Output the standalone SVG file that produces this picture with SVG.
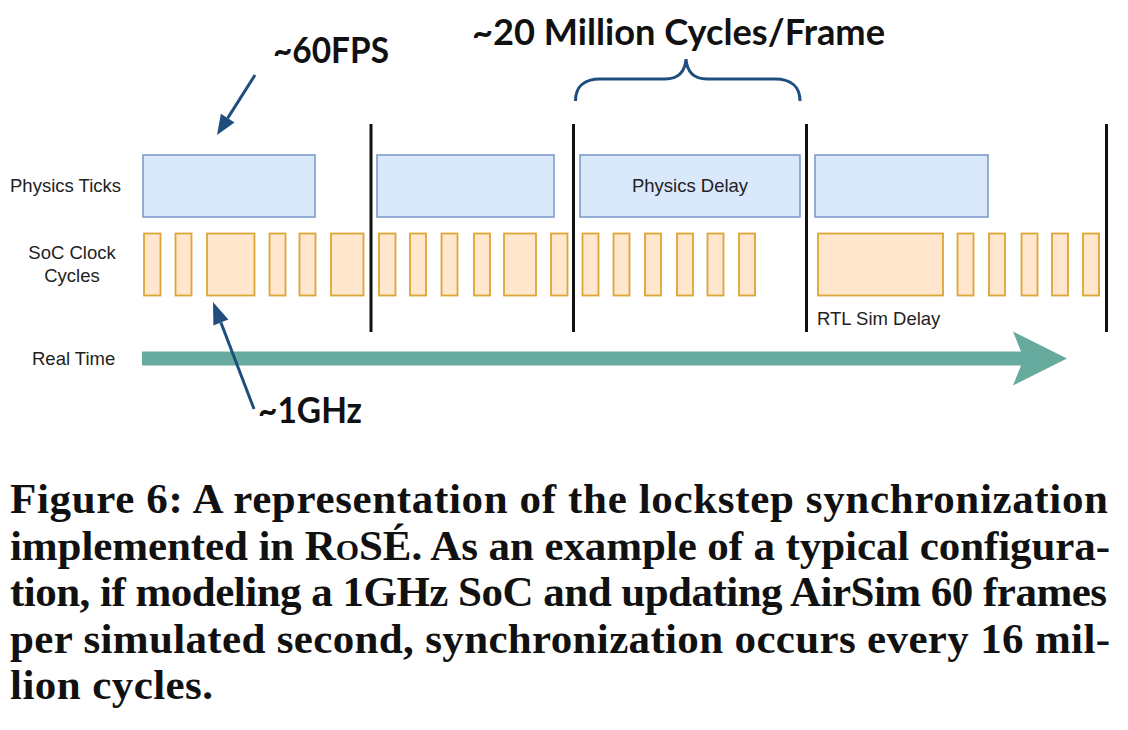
<svg xmlns="http://www.w3.org/2000/svg" width="1128" height="730" viewBox="0 0 1128 730">
<style>
.bg{fill:#ffffff}
.tick{fill:#dae8fc;stroke:#7c9cc9;stroke-width:1.6}
.clk{fill:#ffe6cc;stroke:#dca636;stroke-width:1.8}
.sync{stroke:#111111;stroke-width:3;fill:none}
.lbl{font-family:"Liberation Sans",Arial,sans-serif;font-size:18.5px;fill:#222222}
.big{font-family:Lato,"Open Sans",sans-serif;font-weight:bold;font-size:36px;fill:#111111}
.cap{font-family:"Liberation Serif","Times New Roman",serif;font-weight:bold;font-size:43px;fill:#111111}
.blue{stroke:#1f4e7e;stroke-width:3;fill:none}
.bluehead{fill:#1f4e7e}
.rt{fill:#67ab9f}
</style>
<rect class="bg" x="0" y="0" width="1128" height="730"/>

<g id="row-labels">
<text class="lbl" x="10" y="192">Physics Ticks</text>
<text class="lbl" x="72" y="259" text-anchor="middle">SoC Clock</text>
<text class="lbl" x="72" y="282" text-anchor="middle">Cycles</text>
<text class="lbl" x="32" y="365">Real Time</text>
</g>

<g id="physics-ticks">
<rect class="tick" x="143" y="155" width="172" height="62"/>
<rect class="tick" x="377" y="155" width="177" height="62"/>
<g id="physics-delay">
<rect class="tick" x="580" y="155" width="220" height="62"/>
<text class="lbl" x="690" y="192" text-anchor="middle">Physics Delay</text>
</g>
<rect class="tick" x="815" y="155" width="173" height="62"/>
</g>

<g id="clock-cycles">
<rect class="clk" x="144" y="233.5" width="16.5" height="62"/>
<rect class="clk" x="175.5" y="233.5" width="16" height="62"/>
<rect class="clk" x="207" y="233.5" width="47.5" height="62"/>
<rect class="clk" x="269.5" y="233.5" width="16" height="62"/>
<rect class="clk" x="299.5" y="233.5" width="16" height="62"/>
<rect class="clk" x="331" y="233.5" width="32.5" height="62"/>
<rect class="clk" x="379" y="233.5" width="16.5" height="62"/>
<rect class="clk" x="410" y="233.5" width="16" height="62"/>
<rect class="clk" x="441.5" y="233.5" width="16" height="62"/>
<rect class="clk" x="474" y="233.5" width="16" height="62"/>
<rect class="clk" x="504" y="233.5" width="32" height="62"/>
<rect class="clk" x="551" y="233.5" width="16.5" height="62"/>
<rect class="clk" x="582.5" y="233.5" width="16" height="62"/>
<rect class="clk" x="613.5" y="233.5" width="16" height="62"/>
<rect class="clk" x="645" y="233.5" width="16" height="62"/>
<rect class="clk" x="677" y="233.5" width="16" height="62"/>
<rect class="clk" x="707.5" y="233.5" width="16" height="62"/>
<rect class="clk" x="739" y="233.5" width="16" height="62"/>
<g id="rtl-sim-delay">
<rect class="clk" x="818" y="233.5" width="125" height="62"/>
<text class="lbl" x="817" y="325">RTL Sim Delay</text>
</g>
<rect class="clk" x="957.5" y="233.5" width="16" height="62"/>
<rect class="clk" x="989" y="233.5" width="16" height="62"/>
<rect class="clk" x="1021.5" y="233.5" width="16" height="62"/>
<rect class="clk" x="1052" y="233.5" width="16" height="62"/>
<rect class="clk" x="1083" y="233.5" width="16" height="62"/>
</g>

<g id="sync-lines">
<line class="sync" x1="371" y1="124" x2="371" y2="332"/>
<line class="sync" x1="573.5" y1="124" x2="573.5" y2="332"/>
<line class="sync" x1="806.5" y1="124" x2="806.5" y2="332"/>
<line class="sync" x1="1106.5" y1="124" x2="1106.5" y2="332"/>
</g>

<g id="real-time-arrow">
<polygon class="rt" points="142,351.5 1021,351.5 1013,331.5 1067,358.5 1013,385.5 1021,365.5 142,365.5"/>
</g>

<g id="annotations">
<text class="big" x="273" y="63" textLength="116" lengthAdjust="spacingAndGlyphs">~60FPS</text>
<text class="big" x="472" y="45" textLength="413" lengthAdjust="spacingAndGlyphs">~20 Million Cycles/Frame</text>
<text class="big" x="258" y="423" textLength="104" lengthAdjust="spacingAndGlyphs">~1GHz</text>
</g>

<g id="connectors">
<line class="blue" x1="255" y1="75" x2="227.7" y2="118.1"/>
<polygon class="bluehead" points="217,135 234.5,122.4 220.9,113.8"/>
<line class="blue" x1="254" y1="409" x2="220.9" y2="322.5"/>
<polygon class="bluehead" points="213,302 228.4,319.6 213.4,325.4"/>
<path class="blue" d="M575.5,101 C575.5,86 585,79 600,79 L665,79 C678,79 685,72 686,59 C687,72 694,79 707,79 L775,79 C790,79 800,86 800,101"/>
</g>

<g id="caption">
<text class="cap" x="10" y="513" textLength="1098" lengthAdjust="spacing">Figure 6: A representation of the lockstep synchronization</text>
<text class="cap" x="10" y="559.5" textLength="1100" lengthAdjust="spacing">implemented in R<tspan font-variant="small-caps">o</tspan>SÉ. As an example of a typical configura-</text>
<text class="cap" x="10" y="606" textLength="1097" lengthAdjust="spacing">tion, if modeling a 1GHz SoC and updating AirSim 60 frames</text>
<text class="cap" x="10" y="652.5" textLength="1100" lengthAdjust="spacing">per simulated second, synchronization occurs every 16 mil-</text>
<text class="cap" x="10" y="699" textLength="203" lengthAdjust="spacing">lion cycles.</text>
</g>
</svg>
